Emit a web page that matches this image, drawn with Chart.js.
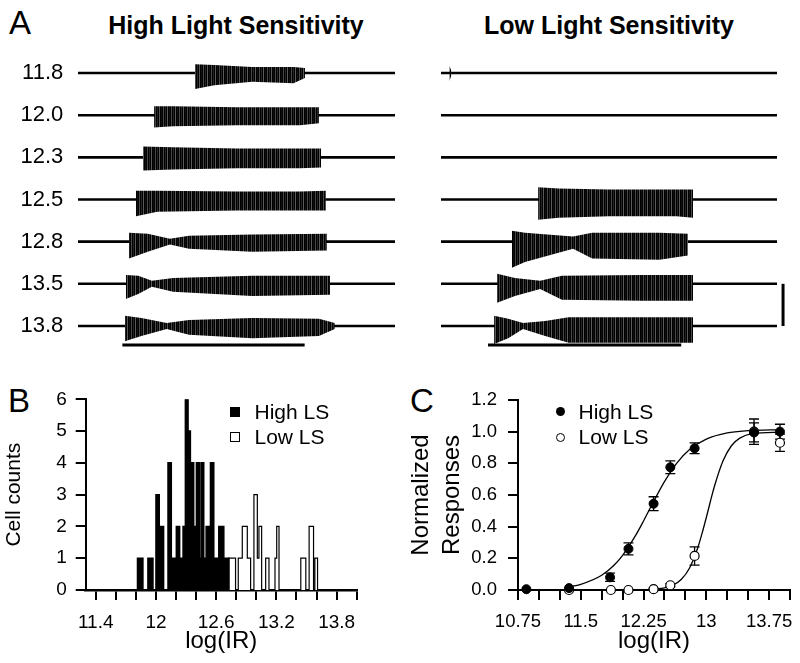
<!DOCTYPE html>
<html>
<head>
<meta charset="utf-8">
<script src="https://cdn.jsdelivr.net/npm/chart.js@4.4.0/dist/chart.umd.min.js"></script>
<style>
  body { margin: 0; background: #fff; }
  #fig { position: relative; width: 800px; height: 663px; overflow: hidden; background: #fff;
         font-family: 'Liberation Sans', Arial, sans-serif; color: #000; }
  #fig canvas { position: absolute; }
  .txt { position: absolute; white-space: nowrap; line-height: 1; }
  .mark { position: absolute; box-sizing: border-box; }
</style>
</head>
<body>
<div id="fig">
  <div class="txt" style="left:9px;top:5.5px;font-size:33px;">A</div>
  <div class="txt" style="left:36px;top:13.2px;width:400px;text-align:center;font-size:25px;font-weight:bold;">High Light Sensitivity</div>
  <div class="txt" style="left:409px;top:13.2px;width:400px;text-align:center;font-size:25px;font-weight:bold;">Low Light Sensitivity</div>
  <div class="txt" style="left:8px;top:383.5px;font-size:33px;">B</div>
  <div class="txt" style="left:410px;top:383.5px;font-size:33px;">C</div>

  <canvas id="aLeft" width="400" height="340" style="left:0;top:30px;"></canvas>
  <canvas id="aRight" width="400" height="340" style="left:400px;top:30px;"></canvas>
  <canvas id="histo" width="400" height="303" style="left:0;top:360px;"></canvas>
  <canvas id="resp" width="400" height="303" style="left:400px;top:360px;"></canvas>

  <div class="mark" style="left:230px;top:406.7px;width:10px;height:10px;background:#000;"></div>
  <div class="mark" style="left:230px;top:432px;width:10px;height:10px;border:1.2px solid #000;background:#fff;"></div>
  <div class="txt" style="left:254.5px;top:400.6px;font-size:21px;">High LS</div>
  <div class="txt" style="left:254.5px;top:426.3px;font-size:21px;">Low LS</div>

  <div class="mark" style="left:555.5px;top:407.2px;width:9px;height:9px;border-radius:50%;background:#000;"></div>
  <div class="mark" style="left:555.5px;top:432.8px;width:9px;height:9px;border-radius:50%;border:1.2px solid #000;background:#fff;"></div>
  <div class="txt" style="left:578.5px;top:400.6px;font-size:21px;">High LS</div>
  <div class="txt" style="left:578.5px;top:426.3px;font-size:21px;">Low LS</div>
</div>

<script>
Chart.defaults.color = '#000';
Chart.defaults.font.family = "'Liberation Sans', Arial, sans-serif";

// ---- panel A: recordings, one row per light intensity (log IR) ----
const intensities = ['11.8', '12.0', '12.3', '12.5', '12.8', '13.5', '13.8'];
const traceLength = 10;          // time units, whole sweep
const stimulus = [1.4, 7.15];    // light on / off
const scaleBar = 1;              // amplitude scale bar

// burst envelopes: [time, upward amplitude, downward amplitude]
const highBursts = [
  [[3.69, 0.21, 0.38], [4.3, 0.19, 0.29], [5.5, 0.14, 0.21], [6.8, 0.14, 0.24], [7.16, 0.12, 0.12]],
  [[2.40, 0.21, 0.29], [3.0, 0.21, 0.26], [5.0, 0.19, 0.24], [7.0, 0.19, 0.24], [7.6, 0.19, 0.19]],
  [[2.05, 0.26, 0.31], [3.0, 0.24, 0.29], [5.0, 0.21, 0.26], [7.0, 0.21, 0.26], [7.67, 0.21, 0.24]],
  [[1.83, 0.21, 0.40], [2.5, 0.21, 0.29], [5.0, 0.19, 0.26], [7.0, 0.19, 0.26], [7.82, 0.21, 0.26]],
  [[1.61, 0.21, 0.40], [2.2, 0.19, 0.24], [2.9, 0.07, 0.07], [3.5, 0.14, 0.17], [5.5, 0.17, 0.24], [7.85, 0.19, 0.21]],
  [[1.51, 0.21, 0.36], [1.9, 0.19, 0.24], [2.33, 0.07, 0.07], [3.0, 0.14, 0.19], [5.5, 0.19, 0.29], [7.95, 0.19, 0.26]],
  [[1.48, 0.24, 0.36], [2.0, 0.19, 0.24], [2.8, 0.07, 0.07], [3.5, 0.14, 0.21], [5.5, 0.19, 0.29], [7.6, 0.17, 0.24], [8.1, 0.07, 0.07]]
];
const lowBursts = [
  [[0.25, 0.17, 0.19], [0.31, 0.05, 0.05]],
  [],
  [],
  [[2.89, 0.29, 0.48], [3.5, 0.26, 0.43], [5.0, 0.24, 0.40], [7.0, 0.24, 0.40], [7.5, 0.24, 0.43]],
  [[2.11, 0.26, 0.62], [2.5, 0.21, 0.48], [3.93, 0.12, 0.17], [4.5, 0.21, 0.40], [6.5, 0.21, 0.43], [7.35, 0.19, 0.33]],
  [[1.67, 0.24, 0.45], [2.2, 0.14, 0.29], [2.95, 0.07, 0.12], [3.6, 0.19, 0.38], [6.0, 0.21, 0.40], [7.5, 0.21, 0.40]],
  [[1.58, 0.24, 0.43], [2.0, 0.17, 0.29], [2.44, 0.07, 0.07], [3.1, 0.12, 0.24], [3.8, 0.21, 0.40], [7.5, 0.21, 0.40]]
];

// ---- panel B: histogram of cells (bin start in log IR, count) ----
const highBinStart = [11.816, 11.87, 11.92, 11.97, 12.0, 12.033, 12.076, 12.12, 12.153, 12.203, 12.236, 12.27, 12.293,
  12.32, 12.343, 12.376, 12.403, 12.433, 12.45, 12.476, 12.5, 12.543, 12.576, 12.626, 12.676, 12.726];
const highCounts = [1, 0, 1, 0, 3, 2, 0, 4, 1, 2, 1, 2, 6, 5, 4, 2, 4, 1, 4, 1, 2, 4, 1, 2, 1, 0];
const lowBinStart = [12.726, 12.793, 12.82, 12.86, 12.91, 12.943, 12.976, 13.01, 13.026, 13.053, 13.093, 13.126,
  13.186, 13.203, 13.226, 13.443, 13.493, 13.526, 13.57, 13.583, 13.61];
const lowCounts = [1, 0, 1, 2, 1, 0, 3, 1, 2, 0, 1, 0, 1, 2, 0, 1, 0, 2, 0, 1, 0];
const histTicks = [11.4, 11.6, 11.8, 12.0, 12.2, 12.4, 12.6, 12.8, 13.0, 13.2, 13.4, 13.6, 13.8, 14.0];
const histTickLabels = ['11.4', '12', '12.6', '13.2', '13.8'];

// ---- panel C: normalized responses ----
const highX = [10.85, 11.36, 11.85, 12.07, 12.37, 12.57, 12.86, 13.57, 13.88];
const highResp = [0.005, 0.012, 0.08, 0.26, 0.545, 0.775, 0.895, 0.995, 1.0];
const highErr = [0, 0, 0.026, 0.038, 0.044, 0.04, 0.034, 0.06, 0.047];
const lowX = [11.36, 11.86, 12.07, 12.37, 12.57, 12.86, 13.57, 13.88];
const lowResp = [0.0, 0.0, 0.0, 0.005, 0.03, 0.215, 1.0, 0.93];
const lowErr = [0, 0, 0, 0.005, 0.01, 0.058, 0.08, 0.055];
const highFitX = [11.35, 11.5, 11.75, 11.9, 12.0, 12.15, 12.25, 12.35, 12.5, 12.65, 12.8, 13.0, 13.25, 13.5, 13.9];
const highFit = [0.020, 0.036, 0.093, 0.158, 0.219, 0.340, 0.436, 0.538, 0.684, 0.803, 0.887, 0.953, 0.992, 1.006, 1.013];
const lowFitX = [11.35, 12.0, 12.3, 12.5, 12.6, 12.7, 12.8, 12.9, 12.95, 13.0, 13.05, 13.1, 13.2, 13.3, 13.4, 13.55, 13.9];
const lowFit = [0, 0.0002, 0.003, 0.013, 0.030, 0.066, 0.139, 0.270, 0.359, 0.458, 0.562, 0.660, 0.816, 0.911, 0.959, 0.988, 0.997];
const respTicks = [10.75, 11.0, 11.25, 11.5, 11.75, 12.0, 12.25, 12.5, 12.75, 13.0, 13.25, 13.5, 13.75, 14.0];
const respTickLabels = ['10.75', '11.5', '12.25', '13', '13.75'];

// spiky texture for the bursts
const stripeShades = ['#000', '#111', '#000', '#4a4a4a', '#000', '#262626', '#000', '#5a5a5a'];
const tile = document.createElement('canvas');
tile.width = stripeShades.length; tile.height = 1;
const tctx = tile.getContext('2d');
stripeShades.forEach((c, i) => { tctx.fillStyle = c; tctx.fillRect(i, 0, 1, 1); });
const burstFill = tctx.createPattern(tile, 'repeat');

const nRows = intensities.length;

function traceDatasets(bursts, withScaleBar) {
  const ds = [];
  bursts.forEach((env, i) => {
    const base = nRows - 1 - i;
    if (env.length) {
      ds.push({
        data: env.map(p => ({x: p[0], y: base + p[1]})),
        fill: '+1', backgroundColor: burstFill,
        borderColor: 'rgba(0,0,0,0)', borderWidth: 1, pointRadius: 0
      });
      ds.push({
        data: env.map(p => ({x: p[0], y: base - p[2]})),
        fill: false, borderColor: 'rgba(0,0,0,0)', borderWidth: 1, pointRadius: 0
      });
    }
    ds.push({
      data: [{x: 0, y: base}, {x: traceLength, y: base}],
      fill: false, borderColor: '#000', borderWidth: 2.6, pointRadius: 0
    });
  });
  ds.push({
    data: [{x: stimulus[0], y: -0.45}, {x: stimulus[1], y: -0.45}],
    fill: false, borderColor: '#000', borderWidth: 3, pointRadius: 0
  });
  if (withScaleBar) {
    ds.push({
      data: [{x: 10.18, y: 0}, {x: 10.18, y: scaleBar}],
      fill: false, borderColor: '#000', borderWidth: 3, pointRadius: 0, clip: false
    });
  }
  return ds;
}

function noLabelOverflow(axis) {
  axis.paddingTop = 0; axis.paddingBottom = 0;
  axis.paddingLeft = 0; axis.paddingRight = 0;
}

function traceChart(id, bursts, padding, showLabels, withScaleBar) {
  new Chart(document.getElementById(id), {
    type: 'line',
    data: {datasets: traceDatasets(bursts, withScaleBar)},
    options: {
      responsive: false, animation: false, devicePixelRatio: 1, events: [],
      layout: {padding: padding},
      plugins: {legend: {display: false}, tooltip: {enabled: false}},
      scales: {
        x: {type: 'linear', min: 0, max: traceLength, display: false},
        y: {
          min: -0.75, max: nRows - 0.25, display: showLabels,
          afterBuildTicks: axis => { axis.ticks = intensities.map((_, i) => ({value: i})); },
          afterFit: axis => { noLabelOverflow(axis); if (showLabels) axis.width = 78; },
          grid: {display: false, drawTicks: false},
          border: {display: false},
          ticks: {
            padding: 14.7, font: {size: 22},
            callback: v => intensities[nRows - 1 - v]
          }
        }
      }
    }
  });
}

traceChart('aLeft', highBursts, {left: 0, right: 5, top: 11.4, bottom: 12.4}, true, false);
traceChart('aRight', lowBursts, {left: 41, right: 23, top: 11.4, bottom: 12.4}, false, true);

// ---- panel B ----
function steps(starts, counts) {
  return [{x: starts[0], y: 0}].concat(starts.map((s, i) => ({x: s, y: counts[i]})));
}
const tickStyle = {drawOnChartArea: false, drawTicks: true, tickLength: 10, color: '#000', lineWidth: 2};

new Chart(document.getElementById('histo'), {
  type: 'line',
  data: {
    datasets: [
      {label: 'High LS', data: steps(highBinStart, highCounts), stepped: 'before', fill: 'origin',
       backgroundColor: '#000', borderColor: '#000', borderWidth: 1.5, pointRadius: 0},
      {label: 'Low LS', data: steps(lowBinStart, lowCounts), stepped: 'before', fill: 'origin',
       backgroundColor: '#fff', borderColor: '#000', borderWidth: 1.2, pointRadius: 0}
    ]
  },
  options: {
    responsive: false, animation: false, devicePixelRatio: 1, events: [],
    layout: {padding: {left: 0, right: 43.3, top: 39.3, bottom: 0}},
    plugins: {legend: {display: false}, tooltip: {enabled: false}},
    scales: {
      x: {
        type: 'linear', min: 11.3, max: 14.0,
        afterBuildTicks: axis => { axis.ticks = histTicks.map(v => ({value: v})); },
        afterFit: axis => { noLabelOverflow(axis); axis.height = 73; },
        grid: tickStyle,
        border: {color: '#000', width: 2.5},
        ticks: {
          autoSkip: false, maxRotation: 0, padding: 11, font: {size: 19},
          callback: v => histTickLabels.find(l => Math.abs(parseFloat(l) - v) < 1e-6) || ''
        },
        title: {display: true, text: 'log(IR)', font: {size: 24}, padding: {top: 0, bottom: 7.6}}
      },
      y: {
        min: 0, max: 6,
        afterFit: axis => { noLabelOverflow(axis); axis.width = 85.7; },
        grid: tickStyle,
        border: {color: '#000', width: 2},
        ticks: {stepSize: 1, padding: 9, font: {size: 19}},
        title: {display: true, text: 'Cell counts', font: {size: 21}, padding: {top: 2, bottom: 0}}
      }
    }
  }
});

// ---- panel C ----
const errorBars = {
  id: 'errorBars',
  beforeDatasetsDraw(chart) {
    const {ctx, scales: {x, y}} = chart;
    ctx.save();
    ctx.strokeStyle = '#000';
    ctx.lineWidth = 1.3;
    chart.data.datasets.forEach(ds => {
      if (!ds.errors) return;
      ds.data.forEach((p, i) => {
        const e = ds.errors[i];
        if (!e) return;
        const px = x.getPixelForValue(p.x);
        const top = y.getPixelForValue(p.y + e);
        const bot = y.getPixelForValue(p.y - e);
        ctx.beginPath();
        ctx.moveTo(px, top); ctx.lineTo(px, bot);
        ctx.moveTo(px - 5, top); ctx.lineTo(px + 5, top);
        ctx.moveTo(px - 5, bot); ctx.lineTo(px + 5, bot);
        ctx.stroke();
      });
    });
    ctx.restore();
  }
};

const pts = (xs, ys) => xs.map((v, i) => ({x: v, y: ys[i]}));

new Chart(document.getElementById('resp'), {
  type: 'line',
  data: {
    datasets: [
      {label: 'High LS', data: pts(highX, highResp), errors: highErr, showLine: false, clip: false,
       pointRadius: 4.5, pointBackgroundColor: '#000', pointBorderColor: '#000', pointBorderWidth: 1},
      {label: 'Low LS', data: pts(lowX, lowResp), errors: lowErr, showLine: false, clip: false,
       pointRadius: 4.5, pointBackgroundColor: '#fff', pointBorderColor: '#000', pointBorderWidth: 1.2},
      {label: 'High fit', data: pts(highFitX, highFit), borderColor: '#000', borderWidth: 1.3,
       pointRadius: 0, cubicInterpolationMode: 'monotone', fill: false},
      {label: 'Low fit', data: pts(lowFitX, lowFit), borderColor: '#000', borderWidth: 1.3,
       pointRadius: 0, cubicInterpolationMode: 'monotone', fill: false}
    ]
  },
  options: {
    responsive: false, animation: false, devicePixelRatio: 1, events: [],
    layout: {padding: {left: 0, right: 10, top: 40, bottom: 0}},
    plugins: {legend: {display: false}, tooltip: {enabled: false}},
    scales: {
      x: {
        type: 'linear', min: 10.75, max: 14.0,
        afterBuildTicks: axis => { axis.ticks = respTicks.map(v => ({value: v})); },
        afterFit: axis => { noLabelOverflow(axis); axis.height = 73; },
        grid: tickStyle,
        border: {color: '#000', width: 2},
        ticks: {
          autoSkip: false, maxRotation: 0, padding: 11, font: {size: 18.5},
          callback: v => respTickLabels.find(l => Math.abs(parseFloat(l) - v) < 1e-6) || ''
        },
        title: {display: true, text: 'log(IR)', font: {size: 24}, padding: {top: 0, bottom: 7.6}}
      },
      y: {
        min: 0, max: 1.2,
        afterFit: axis => { noLabelOverflow(axis); axis.width = 118; },
        grid: tickStyle,
        border: {color: '#000', width: 2},
        ticks: {stepSize: 0.2, padding: 11, font: {size: 18.5}, callback: v => v.toFixed(1)},
        title: {display: true, text: ['Normalized', 'Responses'], font: {size: 24, lineHeight: 1.3},
                padding: {top: 5.4, bottom: 0}}
      }
    }
  },
  plugins: [errorBars]
});
</script>
</body>
</html>
